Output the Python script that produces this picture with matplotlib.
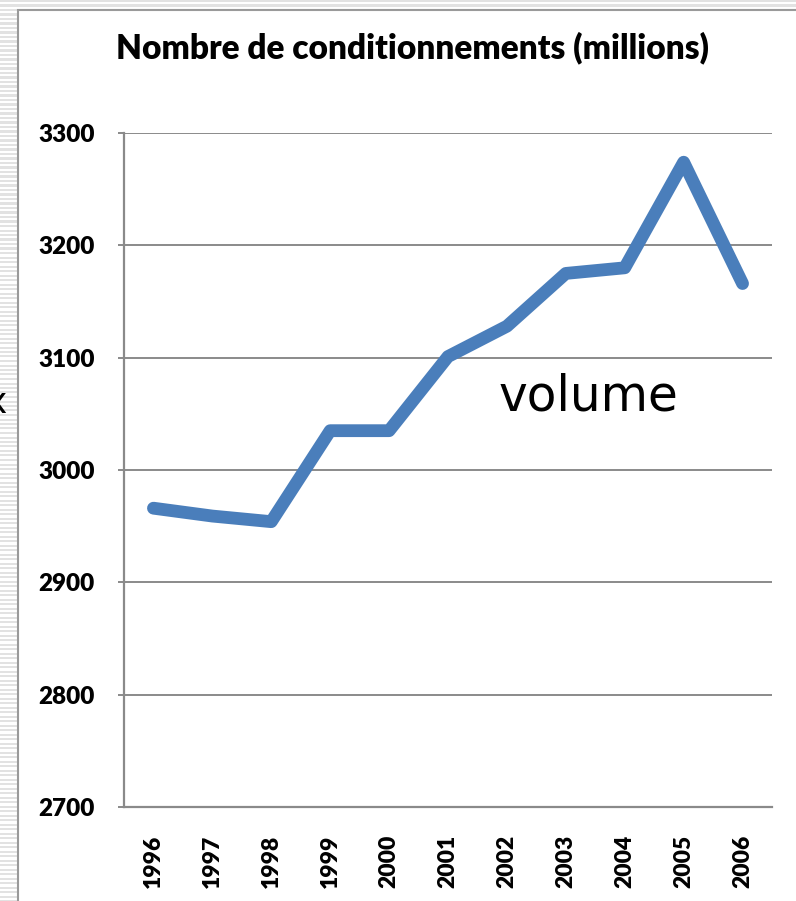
import numpy as np
import matplotlib
matplotlib.use("Agg")
import matplotlib.pyplot as plt
from matplotlib.patches import Rectangle

# Data
years = ["1996", "1997", "1998", "1999", "2000", "2001",
         "2002", "2003", "2004", "2005", "2006"]
volume = [2966, 2959, 2954, 3035, 3035, 3101, 3128, 3175, 3180, 3274, 3166]
y_ticks = [2700, 2800, 2900, 3000, 3100, 3200, 3300]

title = "Nombre de conditionnements (millions)"
series_label = "volume"

W, H = 796, 901
fig = plt.figure(figsize=(W / 100, H / 100), dpi=100)
fig.patch.set_facecolor("white")

# Striped page background behind the chart frame
for y in np.arange(0, H, 4.5):
    fig.add_artist(Rectangle((0, 1 - (y + 2) / H), 1, 2 / H,
                             transform=fig.transFigure, facecolor="#e2e2e2",
                             lw=0, zorder=-20))
# Chart frame
fig.add_artist(Rectangle((18 / W, -0.01), 1, 1.01 - 10 / H,
                         transform=fig.transFigure, facecolor="white",
                         edgecolor="#9a9a9a", lw=1.5, zorder=-10))

ax = fig.add_axes([124 / W, 1 - 807 / H, (772 - 124) / W, (807 - 133) / H])
ax.set_facecolor("none")

x = np.arange(len(years))
ax.plot(x, volume, color="#4A7EBB", lw=9.2, solid_capstyle="round",
        solid_joinstyle="round", zorder=3)

ax.set_xlim(-0.5, len(years) - 0.5)
ax.set_ylim(y_ticks[0], y_ticks[-1])
ax.set_yticks(y_ticks)
ax.set_xticks(x)

grid_c = "#8a8a8a"
for v in y_ticks[1:]:
    ax.axhline(v, color=grid_c, lw=1.4, zorder=1)

for s in ["top", "right"]:
    ax.spines[s].set_visible(False)
for s in ["left", "bottom"]:
    ax.spines[s].set_color(grid_c)
    ax.spines[s].set_linewidth(1.6)

ytick_font = dict(family=["Lato", "DejaVu Sans"], weight="heavy", size=17.5)
xtick_font = dict(family=["Lato", "DejaVu Sans"], weight="heavy", size=16.5)
ax.set_yticklabels([str(v) for v in y_ticks], **ytick_font)
ax.set_xticklabels(years, rotation=90, va="top", ha="center", **xtick_font)
ax.tick_params(axis="y", length=4, color=grid_c, width=1.4, pad=17)
ax.tick_params(axis="x", length=0, pad=20)

fig.text(412 / W, 1 - 48 / H, title, ha="center", va="center",
         family=["Lato", "DejaVu Sans"], weight="heavy", size=24)

ax.text(7.38, 3065, series_label, ha="center", va="center",
        family="DejaVu Sans", size=35, zorder=4)

fig.text(7 / W, 1 - 403 / H, "x", ha="right", va="center",
         family="DejaVu Sans", size=26)

fig.savefig("out.png", dpi=100)
